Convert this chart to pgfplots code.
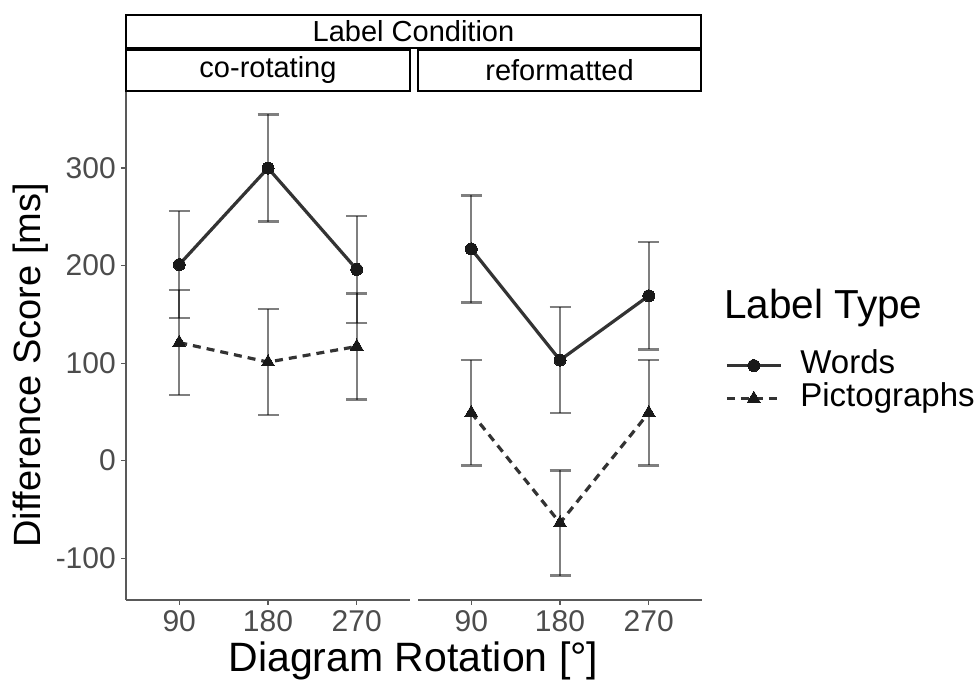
\documentclass[border=0pt]{standalone}
\usepackage{fontspec}
\setmainfont{Liberation Sans}
\usepackage{pgfplots}
\pgfplotsset{compat=1.18}

\pgfplotsset{
  facet/.style={
    scale only axis, width=284pt, height=508pt,
    xmin=0.4, xmax=3.6, ymin=-143, ymax=378,
    xtick={1,2,3}, xticklabels={90,180,270},
    axis x line*=bottom,
    axis line style={-, draw=black!65, line width=1.1pt},
    tick style={draw=black!65, line width=1.1pt},
    tick align=outside, major tick length=5pt,
    ticklabel style={font=\fontsize{30}{30}\selectfont, text=black!70, inner sep=5pt},
    clip=false,
  },
  errbar/.style={forget plot, only marks, mark=none,
    error bars/.cd, y dir=both, y explicit,
    error bar style={draw=black, draw opacity=0.5, line width=2.4pt, solid},
    error mark options={rotate=90, mark size=10.5pt, draw=black, draw opacity=0.5, line width=2.4pt, solid}},
  words/.style={draw=black!80, line width=3.2pt, mark=*, mark size=6pt,
    mark options={solid, fill=black!90, draw=black!90, line width=0pt}},
  picto/.style={draw=black!80, line width=3.2pt, dash pattern=on 8pt off 6pt,
    mark=triangle*, mark size=7.5pt,
    mark options={solid, fill=black!90, draw=black!90, line width=0pt}},
}

\begin{document}
\begin{tikzpicture}
\path (0,0) rectangle (979pt,682pt);

% left facet: co-rotating
\begin{axis}[facet, at={(126pt,82pt)}, anchor=south west,
    axis y line*=left,
    ytick={-100,0,100,200,300}, yticklabels={-100,0,100,200,300}]
\addplot[errbar] coordinates {(1,201) +- (0,55) (2,300) +- (0,55) (3,196) +- (0,55)};
\addplot[errbar] coordinates {(1,121) +- (0,54) (2,101) +- (0,54.5) (3,117) +- (0,54.5)};
\addplot[words] coordinates {(1,201) (2,300) (3,196)};
\addplot[picto] coordinates {(1,121) (2,101) (3,117)};
\end{axis}

% right facet: reformatted
\begin{axis}[facet, at={(418pt,82pt)}, anchor=south west,
    axis y line=none, ytick=\empty,
    legend cell align=left,
    legend image code/.code={\draw[mark repeat=2, mark phase=2, #1]
      plot coordinates {(0pt,0pt) (27pt,0pt) (54pt,0pt)};},
    legend style={at={(1.081,0.429)}, anchor=west, draw=none, fill=none,
      font=\fontsize{33}{33}\selectfont, inner sep=0pt,
      nodes={text height=23pt, text depth=8pt, inner sep=1pt},
      column sep=17pt}]
\addplot[errbar] coordinates {(1,217) +- (0,55) (2,103) +- (0,54.5) (3,169) +- (0,55)};
\addplot[errbar] coordinates {(1,49) +- (0,54) (2,-64) +- (0,54) (3,49) +- (0,54)};
\addplot[words] coordinates {(1,217) (2,103) (3,169)};
\addlegendentry{Words}
\addplot[picto] coordinates {(1,49) (2,-64) (3,49)};
\addlegendentry{Pictographs}
\end{axis}

% facet strips
\begin{scope}[line width=1.4pt]
\draw (126pt,634pt) rectangle (701pt,667pt);
\draw (126pt,591pt) rectangle (410pt,632pt);
\draw (418pt,591pt) rectangle (701pt,632pt);
\end{scope}
\node[font=\fontsize{29}{29}\selectfont] at (413.5pt,650.5pt) {Label Condition};
\node[font=\fontsize{29}{29}\selectfont] at (268pt,611.5pt) {co-rotating};
\node[font=\fontsize{29}{29}\selectfont] at (559.5pt,611.5pt) {reformatted};

% axis titles and legend title
\node[font=\fontsize{38}{38}\selectfont, rotate=90, anchor=base, inner sep=0pt] at (40pt,316.5pt) {Difference Score [ms]};
\node[font=\fontsize{41}{41}\selectfont, anchor=base, inner sep=0pt] at (413.5pt,10pt) {Diagram Rotation [°]};
\node[font=\fontsize{40.5}{40.5}\selectfont, anchor=west, inner sep=0pt] at (724pt,374pt) {Label Type};
\end{tikzpicture}
\end{document}
